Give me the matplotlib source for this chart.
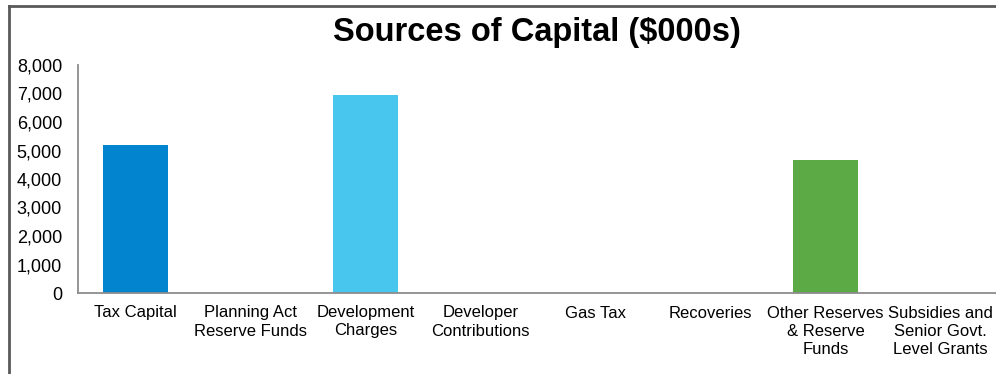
import numpy as np
import matplotlib.pyplot as plt
from matplotlib.lines import Line2D

plt.rcParams['font.family'] = ['Liberation Sans', 'DejaVu Sans']

categories = ['Tax Capital', 'Planning Act\nReserve Funds', 'Development\nCharges',
              'Developer\nContributions', 'Gas Tax', 'Recoveries',
              'Other Reserves\n& Reserve\nFunds', 'Subsidies and\nSenior Govt.\nLevel Grants']
values = [5180, 0, 6950, 0, 0, 0, 4670, 0]
colors = ['#0384CE', '#0384CE', '#48C6ED', '#48C6ED', '#48C6ED', '#48C6ED', '#5BAA46', '#5BAA46']

W, H = 996, 374
fig = plt.figure(figsize=(W / 100, H / 100), dpi=100)
ax = fig.add_axes([78 / W, 81 / H, 920 / W, 228 / H])

x = np.arange(len(categories))
ax.bar(x, values, width=0.57, color=colors)

ax.set_xlim(-0.5, len(categories) - 0.5)
ax.set_ylim(0, 8000)
ax.set_yticks(np.arange(0, 8001, 1000))
ax.set_yticklabels([f'{v:,}' for v in range(0, 8001, 1000)], fontsize=13)
ax.set_xticks(x)
ax.set_xticklabels(categories, fontsize=12, linespacing=1.25, va='top')
ax.tick_params(axis='y', length=0, pad=11.5)
ax.tick_params(axis='x', length=0, pad=9)

for s in ['top', 'right']:
    ax.spines[s].set_visible(False)
for s in ['left', 'bottom']:
    ax.spines[s].set_color('#8c8c8c')
    ax.spines[s].set_linewidth(1.3)

fig.text(537 / W, 1 - 32 / H, 'Sources of Capital ($000s)', ha='center', va='center',
         fontsize=23.5, fontweight='bold')

# outer frame (top and left edges visible)
fx, fy = 8.5 / W, 1 - 5.5 / H
fig.add_artist(Line2D([fx, 1], [fy, fy], color='#595959', lw=2, transform=fig.transFigure))
fig.add_artist(Line2D([fx, fx], [0, fy], color='#595959', lw=2, transform=fig.transFigure))

fig.savefig('out.png', dpi=100)
